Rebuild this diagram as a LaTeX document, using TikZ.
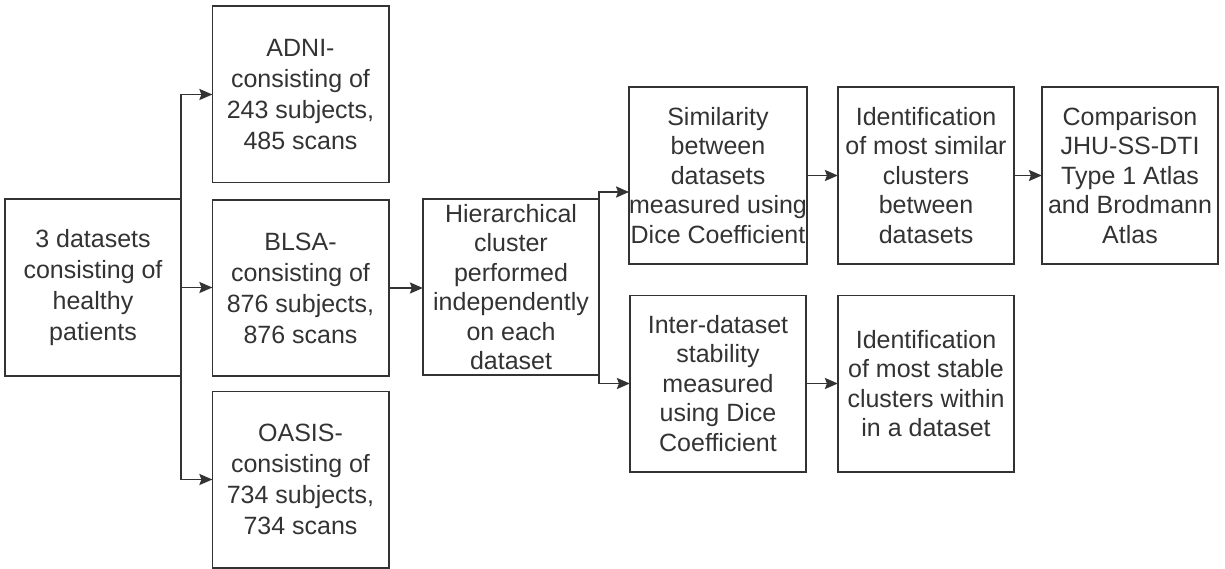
\documentclass[tikz,border=0pt]{standalone}
\usepackage{fontspec}
\setmainfont{Liberation Sans}
\usetikzlibrary{arrows.meta}
\definecolor{ink}{RGB}{51,51,51}
\begin{document}
\begin{tikzpicture}[x=1pt,y=-1pt,
  box/.style={draw=ink, line width=1.8pt, minimum width=176.2pt, minimum height=176.2pt,
    inner sep=0pt, outer sep=0pt, align=center, text=ink,
    font=\fontsize{25}{29.5}\selectfont},
  bigsp/.style={font=\fontsize{25}{31}\selectfont},
  arr/.style={draw=ink, line width=1.8pt, -{Stealth[length=13pt,width=11pt,inset=2pt]}}]
\useasboundingbox (0,0) rectangle (1225,569);

\node[box,bigsp] (src) at (93,287.5) {3 datasets\\consisting of\\healthy\\patients};
\node[box,bigsp] (adni) at (300.5,94.5) {ADNI-\\consisting of\\243 subjects,\\485 scans};
\node[box,bigsp] (blsa) at (300.5,288) {BLSA-\\consisting of\\876 subjects,\\876 scans};
\node[box,bigsp] (oasis) at (300.5,479.5) {OASIS-\\consisting of\\734 subjects,\\734 scans};
\node[box] (hier) at (511,287) {Hierarchical\\cluster\\performed\\independently\\on each\\dataset};
\node[box] (sim) at (718,175.5) {Similarity\\between\\datasets\\measured using\\Dice Coefficient};
\node[box] (idsim) at (926,175.5) {Identification\\of most similar\\clusters\\between\\datasets};
\node[box] (comp) at (1130,175.5) {Comparison\\JHU-SS-DTI\\Type 1 Atlas\\and Brodmann\\Atlas};
\node[box] (inter) at (718,383.5) {Inter-dataset\\stability\\measured\\using Dice\\Coefficient};
\node[box] (idstab) at (926,383.5) {Identification\\of most stable\\clusters within\\in a dataset};

\draw[arr] (src.east) |- (adni.west);
\draw[arr] (src.east) -- (src.east -| blsa.west);
\draw[arr] (src.east) |- (oasis.west);
\draw[arr] (blsa.east) -- (blsa.east -| hier.west);
\draw[arr] (hier.east) |- ([yshift=-16.5pt]sim.west);
\draw[arr] (hier.east) |- (inter.west);
\draw[arr] (sim.east) -- (idsim.west);
\draw[arr] (idsim.east) -- (comp.west);
\draw[arr] (inter.east) -- (idstab.west);
\end{tikzpicture}
\end{document}
